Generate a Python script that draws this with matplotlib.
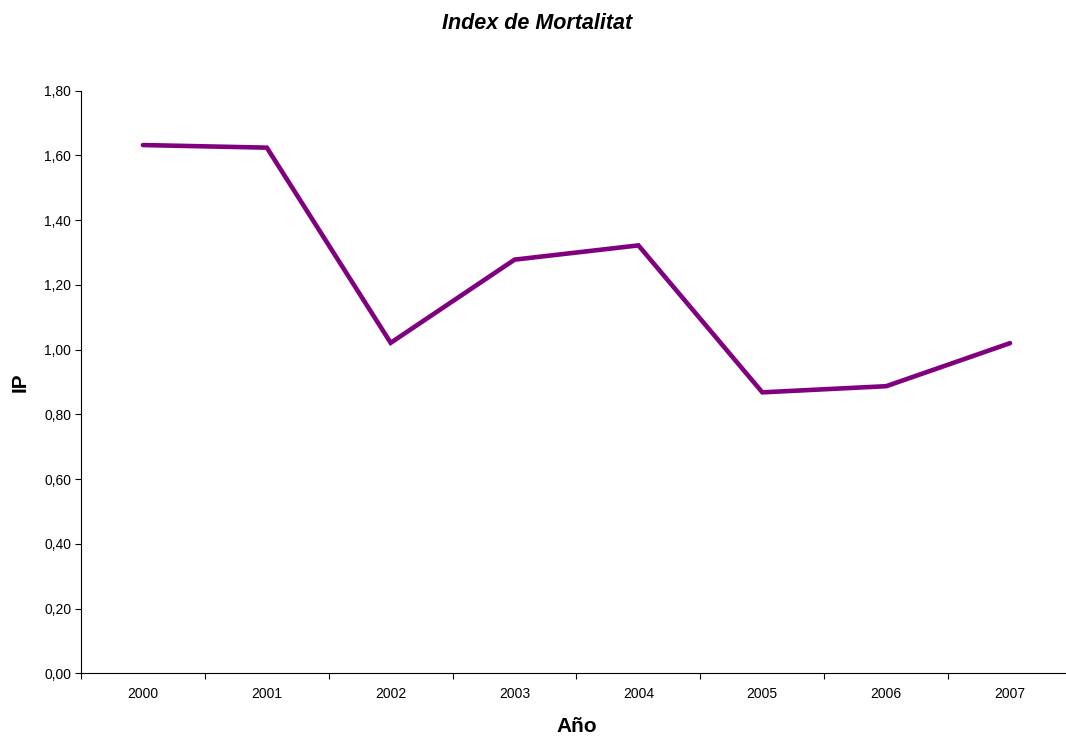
import matplotlib
matplotlib.use("Agg")
import matplotlib.pyplot as plt
from matplotlib.ticker import FixedLocator, FuncFormatter

plt.rcParams['font.family'] = ['Liberation Sans', 'DejaVu Sans']

years = ['2000', '2001', '2002', '2003', '2004', '2005', '2006', '2007']
ip_values = [1.632, 1.624, 1.021, 1.278, 1.322, 0.868, 0.887, 1.020]
y_ticks = [0.0, 0.2, 0.4, 0.6, 0.8, 1.0, 1.2, 1.4, 1.6, 1.8]

fig = plt.figure(figsize=(10.66, 7.39), dpi=100)
ax = fig.add_axes([0.076, 0.0889, 0.9296, 0.7884])

x = [i + 0.5 for i in range(len(years))]
ax.plot(x, ip_values, color='#800080', linewidth=3.3, solid_capstyle='round',
        solid_joinstyle='miter')

ax.set_xlim(0, len(years))
ax.set_ylim(0, 1.8)

# category boundaries carry the tick marks, centres carry the labels
ax.xaxis.set_major_locator(FixedLocator(range(len(years) + 1)))
ax.xaxis.set_major_formatter(FuncFormatter(lambda v, p: ''))
ax.xaxis.set_minor_locator(FixedLocator(x))
ax.set_xticklabels(years, minor=True)
ax.tick_params(axis='x', which='major', direction='out', length=4, width=0.8)
ax.tick_params(axis='x', which='minor', length=0, labelsize=10, pad=10)

ax.set_yticks(y_ticks)
ax.yaxis.set_major_formatter(FuncFormatter(lambda v, p: f'{v:.2f}'.replace('.', ',')))
ax.tick_params(axis='y', direction='out', length=4, width=0.8, labelsize=10, pad=3)

for s in ('top', 'right'):
    ax.spines[s].set_visible(False)
for s in ('left', 'bottom'):
    ax.spines[s].set_linewidth(0.8)

fig.text(0.504, 0.968, 'Index de Mortalitat', ha='center', va='center',
         fontsize=15.5, fontweight='bold', fontstyle='italic')
fig.text(0.541, 0.017, 'Año', ha='center', va='center', fontsize=15,
         fontweight='bold')
fig.text(0.019, 0.483, 'IP', ha='center', va='center', fontsize=15,
         fontweight='bold', rotation=90)

fig.savefig('out.png', dpi=100)
